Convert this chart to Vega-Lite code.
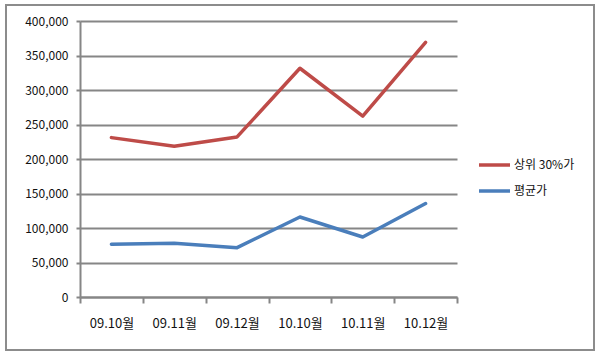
{
  "$schema": "https://vega.github.io/schema/vega-lite/v6.json",
  "autosize": {"type": "none"},
  "padding": {"left": 6, "top": 5, "right": 6, "bottom": 10},
  "width": 588,
  "height": 345,
  "background": "white",
  "config": {
    "view": {"stroke": "#8c8c8c", "strokeWidth": 2},
    "font": "Noto Sans CJK KR"
  },
  "data": {
    "values": [
      {"month": "09.10월", "series": "상위 30%가", "price": 231000},
      {"month": "09.11월", "series": "상위 30%가", "price": 218500},
      {"month": "09.12월", "series": "상위 30%가", "price": 232000},
      {"month": "10.10월", "series": "상위 30%가", "price": 331500},
      {"month": "10.11월", "series": "상위 30%가", "price": 262000},
      {"month": "10.12월", "series": "상위 30%가", "price": 369000},
      {"month": "09.10월", "series": "평균가", "price": 76500},
      {"month": "09.11월", "series": "평균가", "price": 78000},
      {"month": "09.12월", "series": "평균가", "price": 71500},
      {"month": "10.10월", "series": "평균가", "price": 116000},
      {"month": "10.11월", "series": "평균가", "price": 87000},
      {"month": "10.12월", "series": "평균가", "price": 135500}
    ]
  },
  "mark": {"type": "line", "strokeWidth": 3.5, "strokeCap": "round", "strokeJoin": "round"},
  "encoding": {
    "x": {
      "field": "month",
      "type": "ordinal",
      "sort": null,
      "scale": {"type": "band", "range": [74, 451], "paddingInner": 0, "paddingOuter": 0},
      "axis": {
        "title": null,
        "offset": -53,
        "labelAngle": 0,
        "labelFontSize": 13,
        "labelColor": "#111",
        "labelPadding": 14,
        "tickBand": "extent",
        "tickColor": "#868686",
        "tickWidth": 2,
        "tickSize": 6,
        "domainColor": "#868686",
        "domainWidth": 2,
        "grid": false
      }
    },
    "y": {
      "field": "price",
      "type": "quantitative",
      "scale": {"domain": [0, 400000], "range": [292, 16], "nice": false, "zero": true},
      "axis": {
        "title": null,
        "offset": -74,
        "values": [0, 50000, 100000, 150000, 200000, 250000, 300000, 350000, 400000],
        "format": ",d",
        "labelFontSize": 12,
        "labelColor": "#111",
        "labelPadding": 8,
        "tickColor": "#868686",
        "tickWidth": 2,
        "tickSize": 4,
        "domainColor": "#868686",
        "domainWidth": 2,
        "grid": true,
        "gridColor": "#868686",
        "gridWidth": 2,
        "gridOpacity": 1
      }
    },
    "color": {
      "field": "series",
      "type": "nominal",
      "scale": {"domain": ["상위 30%가", "평균가"], "range": ["#BE4B48", "#4A7EBB"]},
      "legend": {
        "title": null,
        "orient": "none",
        "legendX": 471,
        "legendY": 152,
        "padding": 0,
        "symbolType": "stroke",
        "symbolSize": 961,
        "symbolStrokeWidth": 3.5,
        "clipHeight": 16,
        "rowPadding": 10,
        "labelOffset": 2,
        "labelFontSize": 12,
        "labelColor": "#111"
      }
    }
  }
}
